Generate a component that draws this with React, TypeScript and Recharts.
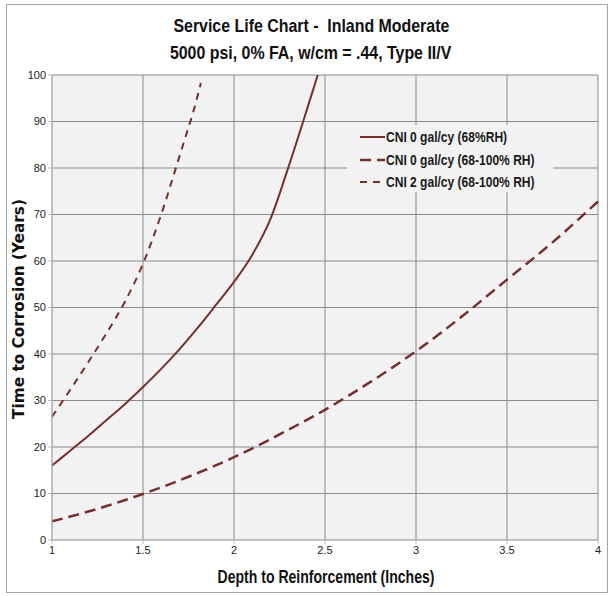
import { LineChart, Line, XAxis, YAxis, CartesianGrid, Legend } from "recharts";

// depth (in) / years for each series
const solidX = [1, 1.1, 1.2, 1.3, 1.4, 1.5, 1.6, 1.7, 1.8, 1.9, 2, 2.1, 2.2, 2.3, 2.4, 2.46];
const solidY = [16, 19.2, 22.4, 25.8, 29.2, 32.9, 36.8, 41, 45.6, 50.5, 55.5, 61.3, 69, 80.3, 92.5, 100];

const longX = [1, 1.25, 1.5, 1.75, 2, 2.25, 2.5, 2.75, 3, 3.25, 3.5, 3.75, 4];
const longY = [4, 6.7, 9.9, 13.6, 17.8, 22.7, 28, 34, 40.6, 48, 56, 64, 72.8];

const shortX = [1, 1.1, 1.2, 1.3, 1.4, 1.5, 1.6, 1.7, 1.8, 1.818];
const shortY = [26.5, 32.3, 38.3, 44.5, 51.2, 59.4, 70, 82.5, 95.5, 98.3];

const seriesNames = [
  "CNI 0 gal/cy (68%RH)",
  "CNI 0 gal/cy (68-100% RH)",
  "CNI 2 gal/cy (68-100% RH)",
];

const xTicks = [1, 1.5, 2, 2.5, 3, 3.5, 4];
const yTicks = [0, 10, 20, 30, 40, 50, 60, 70, 80, 90, 100];

const toRows = (xs: number[], ys: number[]) => xs.map((x, i) => ({ x, y: ys[i] }));

const COLOR = "#772f2d";
const SANS = "'Liberation Sans', Arial, sans-serif";

function Squeeze({ k, origin, children }: { k: number; origin: string; children: any }) {
  return (
    <span style={{ display: "inline-block", whiteSpace: "nowrap", transform: `scaleX(${k})`, transformOrigin: origin }}>
      {children}
    </span>
  );
}

function LegendBox(props: any) {
  const { payload } = props;
  return (
    <div style={{ background: "#f2f2f2", width: 206, height: 67, paddingTop: 1, boxSizing: "border-box" }}>
      {payload.map((p: any, i: number) => (
        <div key={i} style={{ display: "flex", alignItems: "center", height: 22.5, whiteSpace: "nowrap" }}>
          <svg width={39} height={10} style={{ flex: "none" }}>
            <line
              x1={13}
              x2={38}
              y1={5}
              y2={5}
              stroke={COLOR}
              strokeWidth={p.payload.strokeWidth}
              strokeDasharray={p.payload.strokeDasharray}
            />
          </svg>
          <span style={{ fontFamily: SANS, fontWeight: "bold", fontSize: 14, color: "#1a1a1a" }}>
            <Squeeze k={0.86} origin="left center">{p.value}</Squeeze>
          </span>
        </div>
      ))}
    </div>
  );
}

export default function ServiceLifeChart() {
  return (
    <div style={{ position: "absolute", left: 0, top: 0, width: 610, height: 596, background: "#fff" }}>
      <div
        style={{
          position: "absolute",
          left: 6,
          top: 4,
          width: 600,
          height: 587,
          border: "1px solid #a6a6a6",
          pointerEvents: "none",
        }}
      />
      <div
        style={{
          position: "absolute",
          top: 12,
          left: 0,
          width: 622,
          textAlign: "center",
          fontFamily: SANS,
          fontWeight: "bold",
          fontSize: 18.5,
          lineHeight: "27px",
          color: "#111",
        }}
      >
        <div>
          <Squeeze k={0.86} origin="center">Service Life Chart -&nbsp; Inland Moderate</Squeeze>
        </div>
        <div>
          <Squeeze k={0.86} origin="center">5000 psi, 0% FA, w/cm = .44, Type II/V</Squeeze>
        </div>
      </div>
      <div
        style={{
          position: "absolute",
          left: 19,
          top: 309,
          transform: "translate(-50%, -50%) rotate(-90deg)",
          whiteSpace: "nowrap",
          fontFamily: "'DejaVu Sans', sans-serif",
          fontWeight: "bold",
          fontSize: 15.3,
          color: "#111",
        }}
      >
        Time to Corrosion (Years)
      </div>
      <div
        style={{
          position: "absolute",
          top: 567,
          left: 326,
          transform: "translateX(-50%)",
          whiteSpace: "nowrap",
          fontFamily: SANS,
          fontWeight: "bold",
          fontSize: 18,
          color: "#111",
        }}
      >
        <Squeeze k={0.78} origin="center">Depth to Reinforcement (Inches)</Squeeze>
      </div>
      <LineChart width={610} height={596} margin={{ top: 75, right: 12, left: 0, bottom: 26 }}>
        <CartesianGrid fill="#f2f2f2" stroke="#8a8a8a" />
        <XAxis
          type="number"
          dataKey="x"
          domain={[1, 4]}
          ticks={xTicks}
          height={30}
          stroke="#bdbdbd"
          tickSize={4}
          tick={{ fontFamily: SANS, fontSize: 11, fill: "#222" }}
          allowDuplicatedCategory={false}
        />
        <YAxis
          type="number"
          domain={[0, 100]}
          ticks={yTicks}
          width={52}
          stroke="#bdbdbd"
          tickSize={4}
          tick={{ fontFamily: SANS, fontSize: 11, fill: "#222" }}
        />
        <Legend
          layout="vertical"
          align="center"
          verticalAlign="middle"
          content={<LegendBox />}
          wrapperStyle={{ left: 347, top: 125, width: 206, height: 67 }}
        />
        <Line
          data={toRows(solidX, solidY)}
          dataKey="y"
          name={seriesNames[0]}
          type="monotone"
          stroke={COLOR}
          strokeWidth={2}
          dot={false}
          isAnimationActive={false}
        />
        <Line
          data={toRows(longX, longY)}
          dataKey="y"
          name={seriesNames[1]}
          type="monotone"
          stroke={COLOR}
          strokeWidth={2.5}
          strokeDasharray="11 6"
          dot={false}
          isAnimationActive={false}
        />
        <Line
          data={toRows(shortX, shortY)}
          dataKey="y"
          name={seriesNames[2]}
          type="monotone"
          stroke={COLOR}
          strokeWidth={2}
          strokeDasharray="7 6"
          dot={false}
          isAnimationActive={false}
        />
      </LineChart>
    </div>
  );
}
